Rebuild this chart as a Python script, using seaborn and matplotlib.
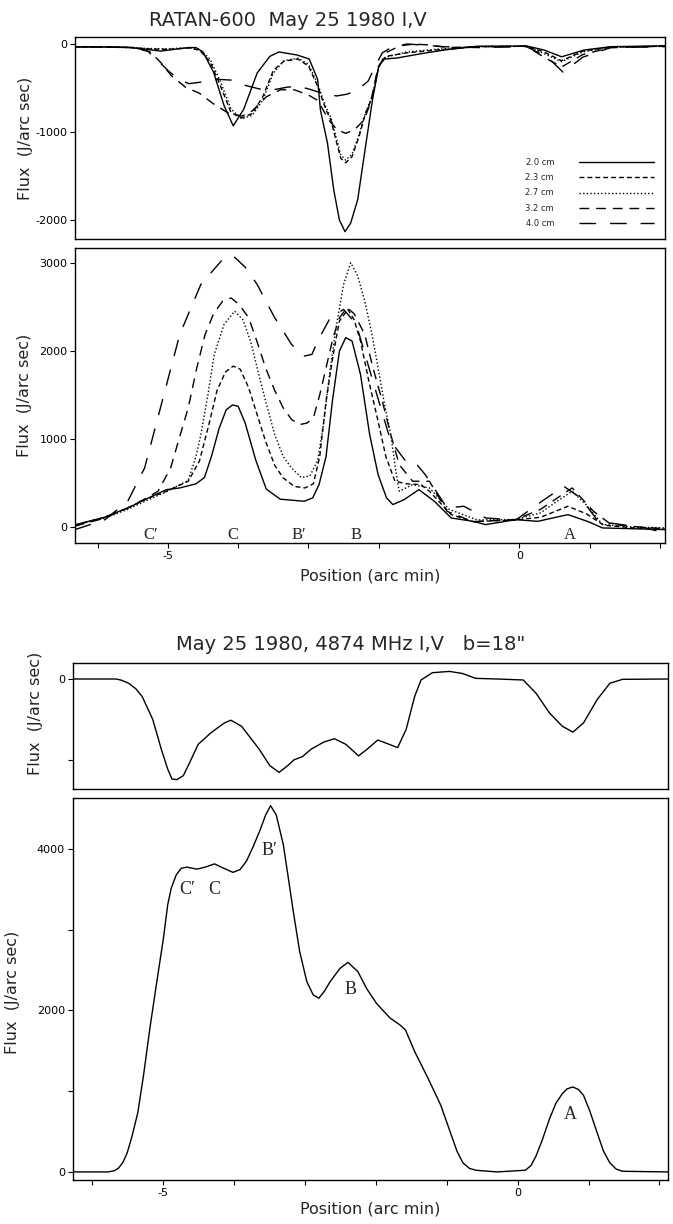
import numpy as np
import pandas as pd
import matplotlib
matplotlib.use("Agg")
import matplotlib.pyplot as plt
import seaborn as sns

# ---------------- data: RATAN-600 multi-band, V (top) ----------------
bands = ["2.0 cm", "2.3 cm", "2.7 cm", "3.2 cm", "4.0 cm"]

v20_x = [-6.32, -5.6, -5.3, -5.1, -4.9, -4.7, -4.6, -4.5, -4.35, -4.2, -4.07, -3.92, -3.73, -3.55, -3.42,
         -3.16, -2.99, -2.87, -2.83, -2.73, -2.64, -2.56, -2.48, -2.40, -2.30, -2.21, -2.09, -2.0, -1.92,
         -1.75, -1.4, -1.07, -0.6, 0.11, 0.35, 0.6, 0.92, 1.3, 2.07]
v20_y = [-30, -35, -60, -80, -60, -40, -40, -90, -320, -700, -930, -740, -330, -140, -90,
         -125, -170, -400, -750, -1125, -1660, -2000, -2133, -2035, -1770, -1280, -636, -250, -170,
         -160, -110, -68, -25, -23, -68, -145, -68, -30, -20]

v23_x = [-6.32, -5.5, -5.3, -5.0, -4.7, -4.55, -4.4, -4.25, -4.1, -3.95, -3.8, -3.65, -3.5, -3.35, -3.15,
         -3.0, -2.87, -2.75, -2.68, -2.61, -2.54, -2.47, -2.38, -2.28, -2.19, -2.09, -2.0, -1.9, -1.6,
         -1.2, -0.6, 0.1, 0.35, 0.6, 0.9, 1.3, 2.07]
v23_y = [-30, -40, -55, -60, -45, -70, -200, -480, -780, -840, -790, -600, -300, -195, -170,
         -250, -480, -750, -864, -1090, -1300, -1350, -1280, -1050, -790, -600, -250, -140, -100,
         -70, -30, -25, -90, -190, -80, -35, -25]

v27_x = [-6.32, -5.5, -5.3, -5.0, -4.7, -4.55, -4.4, -4.25, -4.1, -3.95, -3.8, -3.65, -3.5, -3.35, -3.15,
         -3.0, -2.87, -2.75, -2.68, -2.61, -2.54, -2.47, -2.38, -2.28, -2.19, -2.09, -2.0, -1.9, -1.6,
         -1.2, -0.6, 0.1, 0.35, 0.6, 0.9, 1.3, 2.07]
v27_y = [-30, -40, -50, -55, -40, -60, -170, -430, -740, -850, -810, -640, -330, -190, -160,
         -230, -450, -720, -840, -1050, -1260, -1320, -1250, -1030, -780, -590, -240, -150, -90,
         -60, -30, -25, -110, -200, -90, -35, -25]

v32_x = [-6.32, -5.5, -5.25, -5.1, -4.95, -4.75, -4.55, -4.35, -4.15, -3.95, -3.8, -3.6, -3.4, -3.2,
         -3.0, -2.87, -2.71, -2.59, -2.47, -2.35, -2.21, -2.12, -2.02, -1.9, -1.7, -1.5, -1.3, -1.0,
         -0.6, 0.1, 0.35, 0.6, 0.9, 1.3, 2.07]
v32_y = [-30, -40, -90, -210, -360, -490, -560, -680, -780, -820, -760, -600, -520, -520,
         -580, -640, -864, -977, -1015, -977, -864, -674, -300, -100, -20, 0, -10, -40,
         -30, -25, -150, -260, -120, -40, -25]

v40_x = [-6.32, -5.5, -5.3, -5.15, -5.0, -4.85, -4.7, -4.5, -4.3, -4.1, -3.9, -3.7, -3.5, -3.3, -3.15,
         -3.0, -2.8, -2.6, -2.45, -2.3, -2.15, -2.05, -1.95, -1.8, -1.6, -1.4, -1.1, -0.6, 0.1, 0.4,
         0.62, 0.9, 1.3, 2.07]
v40_y = [-30, -40, -70, -180, -300, -400, -450, -430, -400, -410, -470, -510, -520, -490, -480,
         -510, -560, -590, -570, -520, -420, -250, -100, -30, 0, -10, -30, -40, -30, -150,
         -320, -150, -40, -30]

# ---------------- data: RATAN-600 multi-band, I (second) ----------------
i20_x = [-6.32, -5.9, -5.57, -5.3, -5.02, -4.83, -4.6, -4.48, -4.38, -4.27, -4.17, -4.08, -4.0, -3.9,
         -3.75, -3.6, -3.4, -3.06, -2.94, -2.85, -2.75, -2.66, -2.56, -2.47, -2.38, -2.26, -2.13,
         -2.01, -1.89, -1.8, -1.64, -1.43, -1.21, -0.97, -0.66, -0.48, -0.05, 0.26, 0.69, 0.99, 1.18, 2.07]
i20_y = [25, 110, 216, 320, 424, 443, 490, 560, 800, 1120, 1330, 1385, 1370, 1180,
         760, 430, 315, 292, 330, 480, 800, 1428, 1996, 2150, 2110, 1731, 1050,
         595, 330, 254, 310, 424, 292, 102, 64, 27, 83, 64, 140, 57, -11, -30]

i23_x = [-6.32, -5.9, -5.57, -5.3, -5.02, -4.71, -4.55, -4.42, -4.3, -4.18, -4.07, -3.97, -3.85, -3.72,
         -3.61, -3.48, -3.36, -3.2, -3.05, -2.93, -2.84, -2.75, -2.65, -2.56, -2.44, -2.35, -2.26,
         -2.14, -2.01, -1.9, -1.77, -1.6, -1.4, -1.28, -0.97, -0.66, -0.05, 0.3, 0.69, 0.95, 1.2, 1.6, 2.07]
i23_y = [20, 110, 216, 320, 405, 519, 750, 1150, 1550, 1760, 1826, 1790, 1580, 1250,
         973, 700, 557, 460, 443, 490, 800, 1428, 1950, 2337, 2470, 2350, 2110,
         1650, 1200, 800, 519, 490, 481, 405, 140, 60, 80, 110, 235, 150, 20, -10, -25]

i27_x = [-6.32, -5.9, -5.57, -5.3, -5.02, -4.71, -4.6, -4.53, -4.43, -4.34, -4.2, -4.05, -3.93, -3.82,
         -3.73, -3.6, -3.48, -3.36, -3.24, -3.1, -2.98, -2.87, -2.78, -2.69, -2.6, -2.5, -2.4, -2.3,
         -2.2, -2.1, -2.01, -1.92, -1.83, -1.76, -1.71, -1.52, -1.28, -1.0, -0.6, -0.05, 0.3, 0.55,
         0.75, 0.95, 1.18, 1.6, 2.07]
i27_y = [20, 100, 200, 300, 400, 530, 800, 1050, 1500, 1958, 2300, 2450, 2350, 2100,
         1807, 1400, 1050, 800, 670, 560, 580, 750, 1200, 1807, 2300, 2754, 3000, 2850,
         2564, 2200, 1807, 1400, 1050, 650, 405, 481, 443, 200, 80, 85, 160, 300,
         405, 250, 30, 0, -10]

i32_x = [-6.32, -5.9, -5.57, -5.3, -5.14, -4.96, -4.84, -4.71, -4.59, -4.47, -4.35, -4.22, -4.1, -3.98,
         -3.85, -3.73, -3.61, -3.48, -3.36, -3.24, -3.12, -3.02, -2.93, -2.84, -2.75, -2.65, -2.56,
         -2.45, -2.35, -2.2, -2.08, -1.95, -1.83, -1.71, -1.52, -1.28, -1.03, -0.66, -0.05, 0.3, 0.75,
         1.05, 1.3, 1.7, 2.07]
i32_y = [10, 100, 216, 330, 405, 670, 1000, 1352, 1800, 2186, 2420, 2564, 2600, 2520,
         2375, 2100, 1807, 1550, 1352, 1220, 1163, 1180, 1239, 1500, 1807, 2150, 2375,
         2490, 2420, 2186, 1800, 1428, 1050, 708, 519, 519, 178, 60, 85, 200, 443,
         180, 30, 0, -20]

i40_x = [-6.32, -5.9, -5.57, -5.33, -5.08, -4.83, -4.53, -4.22, -4.07, -3.9, -3.73, -3.48, -3.24, -3.06,
         -2.95, -2.87, -2.69, -2.5, -2.32, -2.07, -1.83, -1.58, -1.45, -1.34, -1.03, -0.79, -0.48,
         -0.05, 0.32, 0.63, 0.87, 1.12, 1.79, 2.07]
i40_y = [-30, 80, 292, 670, 1428, 2186, 2754, 3038, 3076, 2950, 2754, 2375, 2072, 1940,
         1960, 2110, 2375, 2470, 2300, 1617, 973, 708, 700, 595, 216, 235, 102,
         80, 292, 462, 330, 64, -11, -68]

peak_labels = ["C\u2032", "C", "B\u2032", "B", "A"]
peak_pos_top = [-5.25, -4.07, -3.13, -2.32, 0.72]

# ---------------- data: 4874 MHz, V (third) and I (bottom) ----------------
p3_x = [-6.27, -5.66, -5.58, -5.48, -5.38, -5.29, -5.14, -5.02, -4.93, -4.87, -4.80, -4.71, -4.62, -4.50,
        -4.32, -4.13, -4.04, -3.89, -3.64, -3.49, -3.36, -3.24, -3.15, -3.03, -2.91, -2.73, -2.58,
        -2.42, -2.24, -2.12, -1.97, -1.81, -1.69, -1.57, -1.45, -1.36, -1.20, -0.96, -0.78, -0.59,
        -0.29, 0.08, 0.26, 0.45, 0.63, 0.78, 0.93, 1.12, 1.30, 1.48, 2.12]
p3_y = [0, 0, -15, -53, -120, -216, -502, -869, -1114, -1237, -1245, -1196, -1033, -808,
        -665, -543, -510, -584, -869, -1073, -1155, -1073, -1000, -960, -869, -780, -739,
        -808, -951, -869, -755, -808, -849, -624, -216, -12, 78, 94, 69, 8,
        0, -12, -176, -420, -584, -657, -543, -257, -53, -4, 0]

p4_x = [-6.27, -5.77, -5.68, -5.62, -5.56, -5.50, -5.43, -5.35, -5.27, -5.18, -5.09, -4.99, -4.93, -4.88,
        -4.81, -4.74, -4.66, -4.52, -4.40, -4.27, -4.15, -4.01, -3.91, -3.82, -3.73, -3.63, -3.55,
        -3.48, -3.40, -3.30, -3.23, -3.16, -3.07, -2.97, -2.88, -2.80, -2.72, -2.64, -2.50, -2.39,
        -2.25, -2.13, -1.99, -1.80, -1.66, -1.58, -1.45, -1.26, -1.08, -0.93, -0.85, -0.77, -0.68,
        -0.59, -0.29, 0.11, 0.19, 0.26, 0.35, 0.45, 0.54, 0.63, 0.70, 0.78, 0.86, 0.93, 1.02, 1.12,
        1.21, 1.30, 1.39, 1.48, 2.12]
p4_y = [0, 0, 15, 50, 120, 238, 450, 739, 1200, 1785, 2317, 2895, 3307, 3514,
        3678, 3760, 3775, 3750, 3775, 3815, 3765, 3710, 3745, 3850, 4020, 4230, 4420,
        4536, 4420, 4050, 3640, 3224, 2729, 2358, 2193, 2152, 2240, 2358, 2523, 2595,
        2481, 2276, 2090, 1908, 1822, 1760, 1491, 1157, 822, 447, 250, 113, 45,
        21, 0, 21, 80, 196, 400, 656, 850, 969, 1030, 1052, 1020, 948, 750, 489,
        260, 113, 35, 8, 0]

p4_labels = ["C\u2032", "C", "B\u2032", "B", "A"]
p4_label_x = [-4.66, -4.28, -3.49, -2.36, 0.75]
p4_label_y = [3500, 3500, 3975, 2263, 706]

# ---------------- style ----------------
sns.set_theme(style="ticks")
plt.rcParams["font.family"] = ["DejaVu Sans"]
plt.rcParams["axes.linewidth"] = 1.0
plt.rcParams["xtick.major.size"] = 3.5
plt.rcParams["ytick.major.size"] = 3.5
plt.rcParams["xtick.major.width"] = 0.8
plt.rcParams["ytick.major.width"] = 0.8
plt.rcParams["xtick.direction"] = "out"
plt.rcParams["ytick.direction"] = "out"

W, H = 673, 1224
fig = plt.figure(figsize=(W / 100, H / 100), dpi=100)


def axes_px(left, top, right, bottom):
    return fig.add_axes([left / W, 1 - bottom / H, (right - left) / W, (bottom - top) / H])


ax1 = axes_px(75, 37, 665, 239)
ax2 = axes_px(75, 248, 665, 543)
ax3 = axes_px(72.6, 663, 668, 789)
ax4 = axes_px(72.6, 798, 668, 1180)

dash_map = {"2.0 cm": "", "2.3 cm": (3.5, 2.2), "2.7 cm": (1, 1.6),
            "3.2 cm": (7, 5), "4.0 cm": (12, 10)}

v_series = [(v20_x, v20_y), (v23_x, v23_y), (v27_x, v27_y), (v32_x, v32_y), (v40_x, v40_y)]
i_series = [(i20_x, i20_y), (i23_x, i23_y), (i27_x, i27_y), (i32_x, i32_y), (i40_x, i40_y)]

df_v = pd.concat([pd.DataFrame({"pos": x, "flux": y, "band": b})
                  for b, (x, y) in zip(bands, v_series)], ignore_index=True)
df_i = pd.concat([pd.DataFrame({"pos": x, "flux": y, "band": b})
                  for b, (x, y) in zip(bands, i_series)], ignore_index=True)

sns.lineplot(data=df_v, x="pos", y="flux", style="band", style_order=bands, dashes=dash_map,
             color="black", lw=1.0, estimator=None, sort=False, ax=ax1, legend=True)
sns.lineplot(data=df_i, x="pos", y="flux", style="band", style_order=bands, dashes=dash_map,
             color="black", lw=1.0, estimator=None, sort=False, ax=ax2, legend=False)
sns.lineplot(x=p3_x, y=p3_y, color="black", lw=1.0, estimator=None, sort=False, ax=ax3)
sns.lineplot(x=p4_x, y=p4_y, color="black", lw=1.0, estimator=None, sort=False, ax=ax4)

# legend (text first, line sample after)
handles, labels = ax1.get_legend_handles_labels()
ax1.get_legend().remove()
leg = ax1.legend(handles, labels, loc="lower right", bbox_to_anchor=(0.99, 0.03),
                 markerfirst=False, frameon=False, fontsize=6, handlelength=9,
                 handletextpad=3.0, labelspacing=0.75, borderaxespad=0.2)

tick_fs = 8
label_fs = 11.5

# axis limits / ticks
for ax in (ax1, ax2):
    ax.set_xlim(-6.32, 2.07)
for ax in (ax3, ax4):
    ax.set_xlim(-6.27, 2.12)

ax1.set_ylim(-2216, 80)
ax2.set_ylim(-182, 3167)
ax3.set_ylim(-1361, 198)
ax4.set_ylim(-100, 4631)

ax1.set_yticks([0, -1000, -2000], ["0", "-1000", "-2000"])
ax2.set_yticks([0, 1000, 2000, 3000], ["0", "1000", "2000", "3000"])
ax3.set_yticks([0, -1000], ["0", ""])
ax4.set_yticks([0, 1000, 2000, 3000, 4000], ["0", "", "2000", "", "4000"])

xt = list(range(-6, 3))
xtl = ["-5" if v == -5 else ("0" if v == 0 else "") for v in xt]
for ax in (ax2, ax4):
    ax.set_xticks(xt, xtl)
for ax in (ax1, ax3):
    ax.set_xticks([])

for ax in (ax1, ax2, ax3, ax4):
    ax.tick_params(labelsize=tick_fs, colors="black", pad=2)
    for s in ax.spines.values():
        s.set_visible(True)
        s.set_color("black")
        s.set_linewidth(1.0)
    ax.set_xlabel("")
    ax.set_ylabel("Flux  (J/arc sec)", fontsize=label_fs, color="#222222")

ax1.yaxis.set_label_coords(-0.071, 0.5)
ax2.yaxis.set_label_coords(-0.073, 0.5)
ax3.yaxis.set_label_coords(-0.050, 0.60)
ax4.yaxis.set_label_coords(-0.088, 0.49)

ax2.set_xlabel("Position (arc min)", fontsize=label_fs, labelpad=6)
ax4.set_xlabel("Position (arc min)", fontsize=label_fs, labelpad=3)

serif = ["Liberation Serif", "DejaVu Serif"]
for lab, xp in zip(peak_labels, peak_pos_top):
    ax2.text(xp, -88, lab, ha="center", va="center", fontsize=12, family=serif)
for lab, xp, yp in zip(p4_labels, p4_label_x, p4_label_y):
    ax4.text(xp, yp, lab, ha="center", va="center", fontsize=13, family=serif)

fig.text(288 / W, 1 - 20 / H, "RATAN-600  May 25 1980 I,V", ha="center", va="center", fontsize=14)
fig.text(351 / W, 1 - 645 / H, "May 25 1980, 4874 MHz I,V   b=18\"", ha="center", va="center",
         fontsize=14)

fig.savefig("out.png", dpi=100)
